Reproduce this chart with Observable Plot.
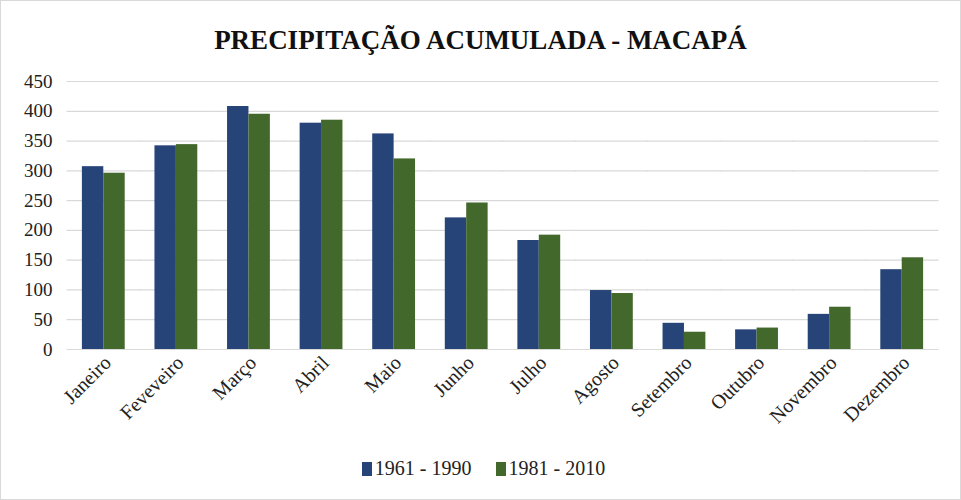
<!DOCTYPE html>
<html>
<head>
<meta charset="utf-8">
<script src="https://cdn.jsdelivr.net/npm/d3@7"></script>
<script src="https://cdn.jsdelivr.net/npm/@observablehq/plot@0.6"></script>
<style>
  html, body { margin: 0; padding: 0; background: #fff; }
  #chart { position: relative; width: 959px; height: 498px; border: 1px solid #d9d9d9; overflow: hidden; font-family: "Liberation Serif", "Times New Roman", serif; }
  #title { height: 59px; line-height: 78px; text-align: center; font-weight: bold; font-size: 27px; color: #111; margin: 0; }
  #legend { display: flex; justify-content: center; align-items: center; gap: 24px; font-size: 20px; color: #222; margin-top: 6px; margin-left: 6px; }
  .item { display: flex; align-items: center; gap: 3px; }
  .sw { width: 10px; height: 14px; display: inline-block; }
</style>
</head>
<body>
<div id="chart">
  <div id="title">PRECIPITAÇÃO ACUMULADA - MACAPÁ</div>
  <div id="plot"></div>
  <div id="legend"></div>
</div>
<script>
const months = ["Janeiro","Feveveiro","Março","Abril","Maio","Junho","Julho","Agosto","Setembro","Outubro","Novembro","Dezembro"];
const series = ["1961 - 1990", "1981 - 2010"];
const values1961 = [307, 342, 408, 380, 362, 221, 183, 99, 44, 33, 59, 134];
const values1981 = [296, 344, 395, 385, 320, 246, 192, 94, 29, 36, 71, 154];
const yTicks = [0, 50, 100, 150, 200, 250, 300, 350, 400, 450];
const colors = ["#264478", "#43682b"];

const data = [];
months.forEach((m, i) => {
  data.push({month: m, series: series[0], value: values1961[i]});
  data.push({month: m, series: series[1], value: values1981[i]});
});

const W = 959, ML = 66, MR = 22, PAD = 0.41;
const step = (W - ML - MR) / months.length;
const gridInset = -step * PAD / 2 - 0.5;

const chart = Plot.plot({
  width: W,
  height: 391,
  marginLeft: ML,
  marginRight: MR,
  marginTop: 21,
  marginBottom: 102,
  style: {fontFamily: "'Liberation Serif', 'Times New Roman', serif", fontSize: "18px", color: "#222", background: "#fff", overflow: "visible"},
  fx: {domain: months, paddingInner: PAD, paddingOuter: PAD / 2, round: false, label: null},
  x: {domain: series, padding: 0, round: false, axis: null},
  y: {domain: [0, 450], label: null},
  color: {domain: series, range: colors},
  marks: [
    Plot.ruleY(yTicks, {stroke: "#d9d9d9", strokeWidth: 1.2, insetLeft: gridInset, insetRight: gridInset}),
    Plot.barY(data, {fx: "month", x: "series", y: "value", fill: "series"}),
    Plot.axisY(yTicks, {tickSize: 0, tickPadding: 30, fontSize: 19, label: null}),
    Plot.axisFx({anchor: "bottom", tickSize: 0, tickPadding: 10, tickRotate: -45, fontSize: 20, dx: 4, label: null})
  ]
});
document.getElementById("plot").appendChild(chart);

const legend = document.getElementById("legend");
series.forEach((s, i) => {
  const it = document.createElement("div");
  it.className = "item";
  const sw = document.createElement("span");
  sw.className = "sw";
  sw.style.background = colors[i];
  it.appendChild(sw);
  const t = document.createElement("span");
  t.textContent = s;
  it.appendChild(t);
  legend.appendChild(it);
});
</script>
</body>
</html>
